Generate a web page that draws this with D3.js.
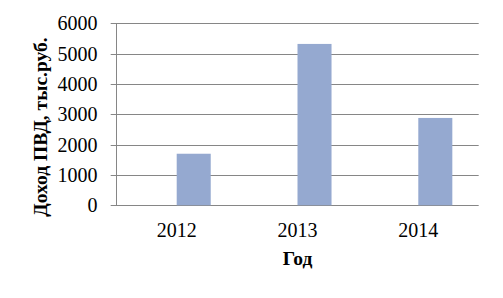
<!DOCTYPE html>
<html><head><meta charset="utf-8">
<script src="https://cdn.jsdelivr.net/npm/d3@7"></script>
<style>body{margin:0;background:#fff}svg{display:block}
text{font-family:"Liberation Serif","Times New Roman",Tinos,"DejaVu Serif",serif}</style>
</head><body>
<script>
const years = ["2012", "2013", "2014"];
const seriesNames = ["empty", "Доход ПВД"];
const emptyValues = [null, null, null];
const incomeValues = [1700, 5320, 2880];
const yTicks = [0, 1000, 2000, 3000, 4000, 5000, 6000];
const yTitle = "Доход ПВД, тыс.руб.";
const xTitle = "Год";

const W = 503, H = 298;
const m = {left: 116.3, right: 24.3, top: 23.3, bottom: 92.7};
const svg = d3.select("body").append("svg").attr("width", W).attr("height", H);
const grey = "#868686";

const x = d3.scaleBand().domain(years).range([m.left, W - m.right]).padding(0);
const y = d3.scaleLinear().domain([0, 6000]).range([H - m.bottom, m.top]);
// Clustered layout: two series per category, the first one empty
const gapRatio = 1.55;
const inner = d3.scaleBand().domain(seriesNames)
  .range([0, x.bandwidth()]).paddingOuter(gapRatio / 2).paddingInner(0);

// Gridlines
svg.append("g").selectAll("line").data(yTicks).join("line")
  .attr("x1", m.left - 5.6).attr("x2", W - m.right)
  .attr("y1", d => Math.round(y(d)) + 0.5).attr("y2", d => Math.round(y(d)) + 0.5)
  .attr("stroke", grey).attr("stroke-width", 1);

// Y axis line
svg.append("line").attr("x1", Math.round(m.left) + 0.5).attr("x2", Math.round(m.left) + 0.5)
  .attr("y1", Math.round(y(6000))).attr("y2", Math.round(y(0)) + 1)
  .attr("stroke", grey);

// Bars
const data = years.map((yr, i) => ({year: yr, values: [emptyValues[i], incomeValues[i]]}));
const g = svg.append("g").selectAll("g").data(data).join("g")
  .attr("transform", d => `translate(${x(d.year)},0)`);
g.selectAll("rect").data(d => d.values.map((v, j) => ({s: seriesNames[j], v})).filter(e => e.v != null))
  .join("rect")
  .attr("x", d => inner(d.s))
  .attr("width", inner.bandwidth())
  .attr("y", d => y(d.v))
  .attr("height", d => y(0) - y(d.v))
  .attr("fill", "#95A9D0");

// Y tick labels
svg.append("g").selectAll("text").data(yTicks).join("text")
  .attr("x", 97.5).attr("y", d => y(d)).attr("dy", "0.35em")
  .attr("text-anchor", "end").attr("font-size", 20)
  .attr("fill", "#000").text(d => d);

// X tick labels
svg.append("g").selectAll("text").data(years).join("text")
  .attr("x", d => x(d) + x.bandwidth() / 2).attr("y", 237)
  .attr("text-anchor", "middle").attr("font-size", 20)
  .attr("fill", "#000").text(d => d);

// Axis titles
svg.append("text").attr("x", x("2013") + x.bandwidth() / 2).attr("y", 265)
  .attr("text-anchor", "middle").attr("font-size", 19.5)
  .attr("font-weight", "bold").text(xTitle);

svg.append("text").attr("transform", "translate(47,127) rotate(-90)")
  .attr("text-anchor", "middle").attr("font-size", 19.5)
  .attr("font-weight", "bold").text(yTitle);
</script>
</body></html>
